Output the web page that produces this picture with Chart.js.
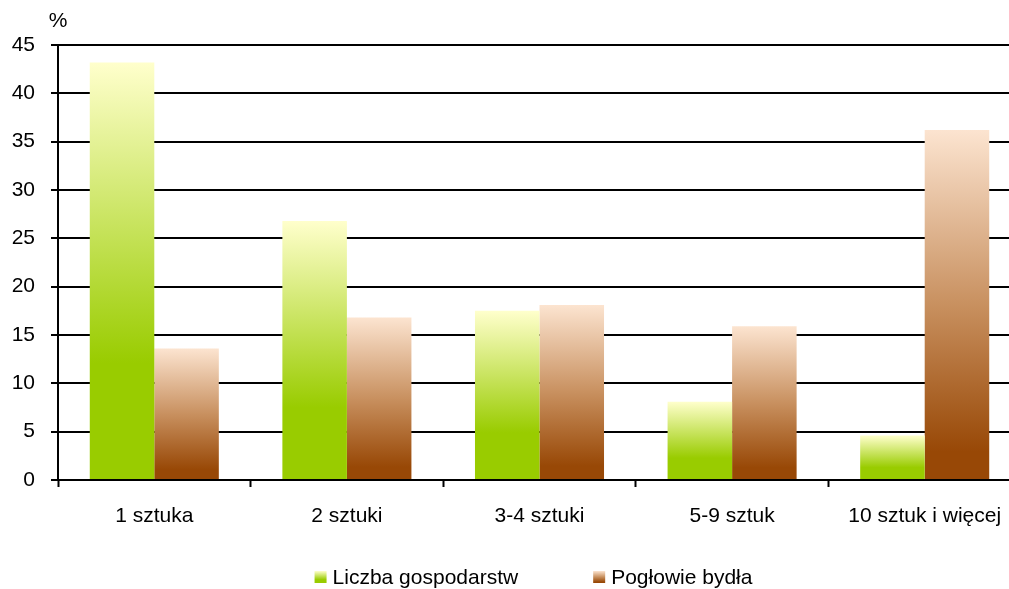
<!DOCTYPE html>
<html>
<head>
<meta charset="utf-8">
<script src="https://cdn.jsdelivr.net/npm/chart.js@4"></script>
<style>
  html, body { margin: 0; padding: 0; background: #fff; overflow: hidden; }
  #wrap { width: 1021px; height: 589px; }
</style>
</head>
<body>
<div id="wrap"><canvas id="wykres" width="1021" height="589"></canvas></div>
<script>
const kategorie = ['1 sztuka', '2 sztuki', '3-4 sztuki', '5-9 sztuk', '10 sztuk i więcej'];
const liczbaGospodarstw = [43.2, 26.8, 17.5, 8.1, 4.6];
const poglowieBydla = [13.6, 16.8, 18.1, 15.9, 36.2];
const osY = { min: 0, max: 45, krok: 5, jednostka: '%' };

const FONT = '"Liberation Sans", Arial, sans-serif';

// gradienty jak w Excelu - jasny u gory, pelny kolor u dolu
const stopyZielone = [[0, '#ffffcc'], [0.72, '#99cc00'], [1, '#99cc00']];
const stopyBrazowe = [[0, '#fce4d0'], [0.5, '#c8905f'], [0.92, '#984806'], [1, '#984806']];

function gradientSlupka(ctx, stopy) {
    const chart = ctx.chart;
    if (!chart.chartArea || ctx.type !== 'data') return stopy[stopy.length - 1][1];
    const y = chart.scales.y;
    const gora = y.getPixelForValue(ctx.raw);
    const dol = y.getPixelForValue(0);
    const g = chart.ctx.createLinearGradient(0, gora, 0, dol);
    stopy.forEach(s => g.addColorStop(s[0], s[1]));
    return g;
}

function gradientDoLegendy(c, x, y, w, h, stopy) {
    const g = c.createLinearGradient(0, y, 0, y + h);
    stopy.forEach(s => g.addColorStop(s[0], s[1]));
    c.fillStyle = g;
    c.fillRect(x, y, w, h);
}

const legendaIProcent = {
    id: 'legendaIProcent',
    afterDraw(chart) {
        const c = chart.ctx;
        const area = chart.chartArea;
        c.save();
        c.font = '21px ' + FONT;
        c.fillStyle = '#000';
        c.textBaseline = 'middle';
        c.textAlign = 'center';
        c.fillText(osY.jednostka, area.left, 21);

        // legenda na dole
        c.textAlign = 'left';
        const ds = chart.data.datasets;
        const box = 12, odstep = 6, miedzy = 75;
        const szer = ds.map(d => box + odstep + c.measureText(d.label).width);
        const calosc = szer.reduce((a, b) => a + b, 0) + miedzy * (ds.length - 1);
        let x = (area.left + area.right) / 2 - 6 - calosc / 2;
        const yc = 577;
        ds.forEach((d, i) => {
            gradientDoLegendy(c, x, yc - 6, box, box, d.stopy);
            c.fillStyle = '#000';
            c.fillText(d.label, x + box + odstep, yc + 1);
            x += szer[i] + miedzy;
        });
        c.restore();
    }
};

const ctx = document.getElementById('wykres').getContext('2d');

new Chart(ctx, {
    type: 'bar',
    data: {
        labels: kategorie,
        datasets: [
            {
                label: 'Liczba gospodarstw',
                data: liczbaGospodarstw,
                stopy: stopyZielone,
                backgroundColor: c => gradientSlupka(c, stopyZielone),
                borderWidth: 0,
                categoryPercentage: 0.67,
                barPercentage: 1
            },
            {
                label: 'Pogłowie bydła',
                data: poglowieBydla,
                stopy: stopyBrazowe,
                backgroundColor: c => gradientSlupka(c, stopyBrazowe),
                borderWidth: 0,
                categoryPercentage: 0.67,
                barPercentage: 1
            }
        ]
    },
    options: {
        responsive: false,
        animation: false,
        layout: { padding: { top: 45, left: 0, right: 0, bottom: 0 } },
        plugins: {
            legend: { display: false },
            tooltip: { enabled: false }
        },
        scales: {
            x: {
                offset: true,
                grid: {
                    display: true,
                    offset: true,
                    drawOnChartArea: false,
                    drawTicks: true,
                    tickLength: 7,
                    tickColor: '#000',
                    tickWidth: 2
                },
                border: { display: true, color: '#000', width: 2 },
                ticks: {
                    color: '#000',
                    font: { family: FONT, size: 21 },
                    padding: 17,
                    maxRotation: 0,
                    autoSkip: false
                },
                afterFit(scale) { scale.height = 109; }
            },
            y: {
                min: osY.min,
                max: osY.max,
                ticks: {
                    stepSize: osY.krok,
                    color: '#000',
                    font: { family: FONT, size: 21 },
                    padding: 16
                },
                grid: {
                    color: '#000',
                    lineWidth: 2,
                    drawTicks: true,
                    tickLength: 7,
                    tickColor: '#000'
                },
                border: { display: true, color: '#000', width: 2 },
                afterFit(scale) { scale.width = 58; }
            }
        }
    },
    plugins: [legendaIProcent]
});
</script>
</body>
</html>
